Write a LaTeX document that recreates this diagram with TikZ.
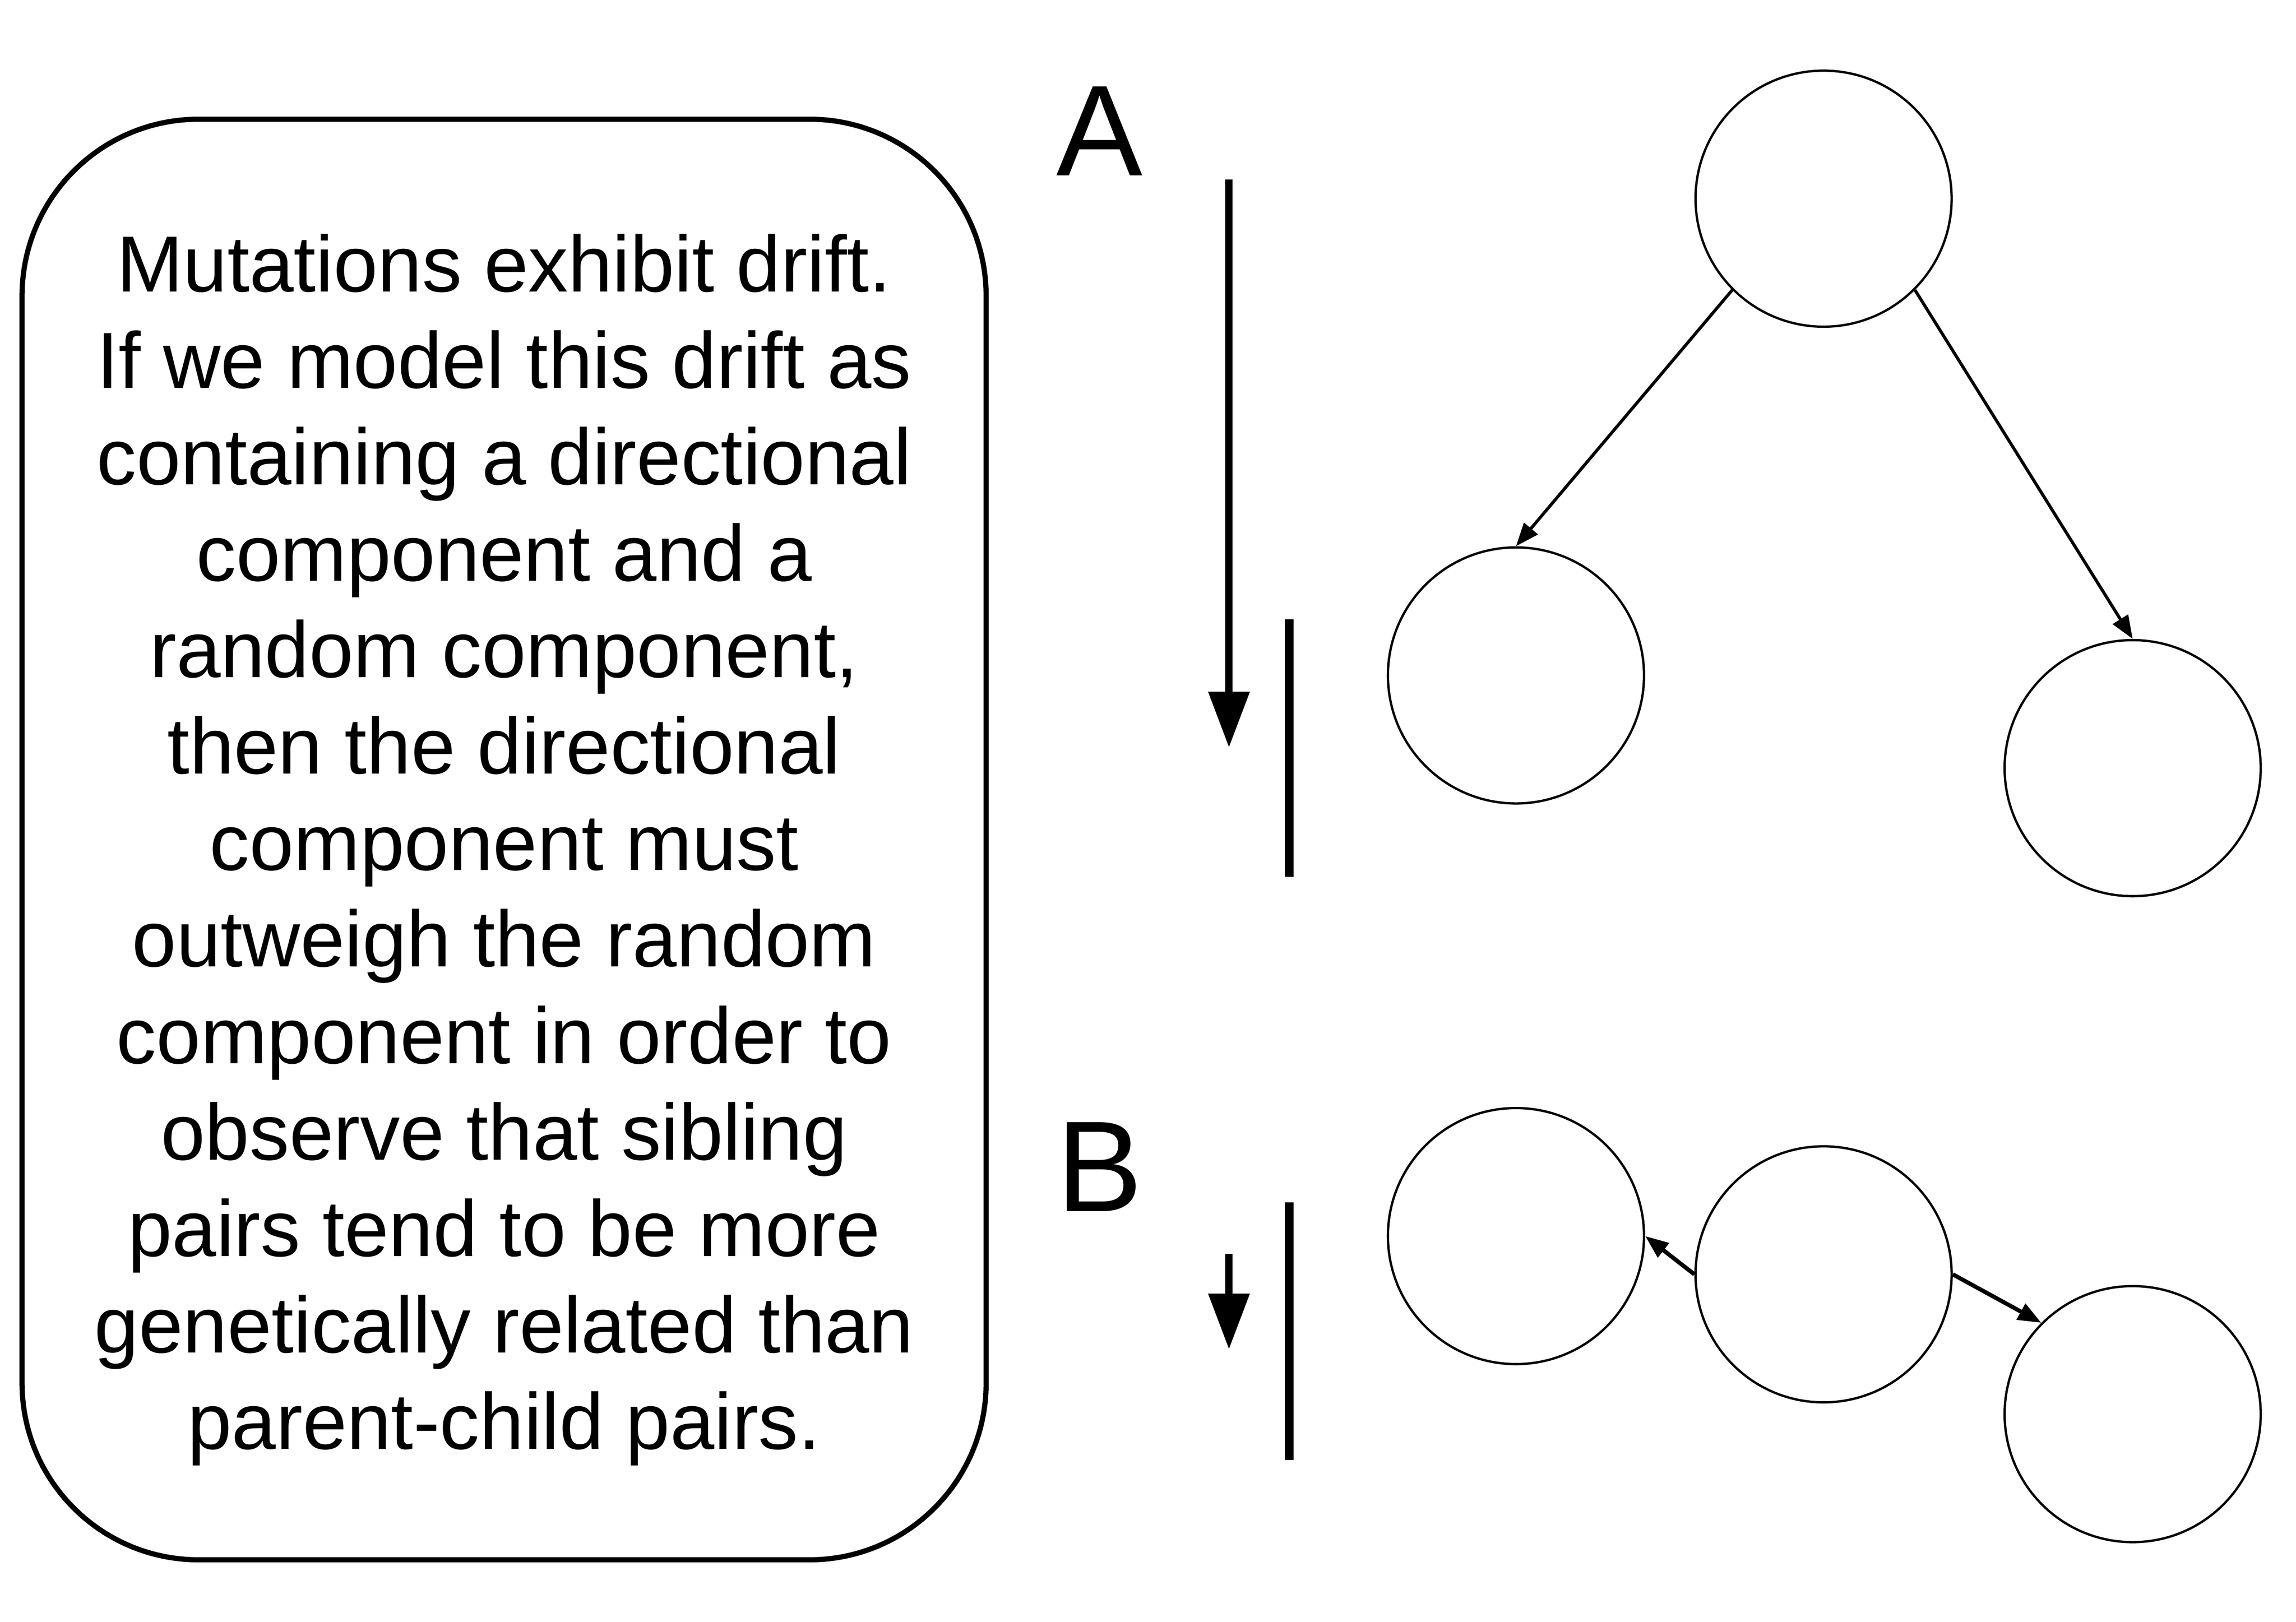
\documentclass[tikz,border=0pt]{standalone}
\usepackage{fontspec}
\setmainfont{Liberation Sans}
\usepackage{tikz}
\usetikzlibrary{arrows.meta,positioning,calc}

\begin{document}
\begin{tikzpicture}[
	cell/.style={circle, draw=black, line width=0.45pt, minimum size=1.74cm, inner sep=0pt},
	link/.style={line width=0.6pt, -{Triangle[length=4.5pt,width=3.4pt]}},
	drift/.style={line width=1.4pt, -{Triangle[length=10.8pt,width=7.7pt]}},
	bar/.style={line width=1.7pt},
	tag/.style={font=\fontsize{25}{30}\selectfont}]
	\useasboundingbox (0,0) rectangle (15.60,-11.02);
	\node[draw=black, line width=1pt, rounded corners=1.2cm, minimum width=6.55cm, minimum height=9.79cm] (note) at (3.425,-5.705) {};
	\node[align=center, font=\fontsize{15.4}{18.65}\selectfont] (notetext) at ($(note.center)+(0,-0.07)$) {Mutations exhibit drift.\\If we model this drift as\\containing a directional\\component and a\\random component,\\then the directional\\component must\\outweigh the random\\component in order to\\observe that sibling\\pairs tend to be more\\genetically related than\\parent-child pairs.};
	\node[tag] (labA) at (7.47,-0.89) {A};
	\node[tag] (labB) at (7.47,-7.93) {B};
	\coordinate (dA0) at (8.35,-1.22);
	\coordinate (dA1) at (8.35,-5.08);
	\coordinate (rA0) at (8.76,-4.21);
	\coordinate (rA1) at (8.76,-5.96);
	\coordinate (dB0) at (8.35,-8.52);
	\coordinate (dB1) at (8.35,-9.17);
	\coordinate (rB0) at (8.76,-8.17);
	\coordinate (rB1) at (8.76,-9.92);
	\draw[drift] (dA0) -- (dA1);
	\draw[bar] (rA0) -- (rA1);
	\draw[drift] (dB0) -- (dB1);
	\draw[bar] (rB0) -- (rB1);
	\node[cell] (parA) at (12.39,-1.35) {};
	\node[cell] (kidA1) at (10.30,-4.59) {};
	\node[cell] (kidA2) at (14.49,-5.22) {};
	\draw[link] (parA.south west) -- (kidA1.north);
	\draw[link] (parA.south east) -- (kidA2.north);
	\node[cell] (kidB1) at (10.30,-8.40) {};
	\node[cell] (parB) at (12.39,-8.66) {};
	\node[cell] (kidB2) at (14.49,-9.61) {};
	\draw[link, line width=0.8pt] (parB.west) -- (kidB1.east);
	\draw[link, line width=0.8pt] (parB.east) -- (kidB2.north west);
\end{tikzpicture}
\end{document}
